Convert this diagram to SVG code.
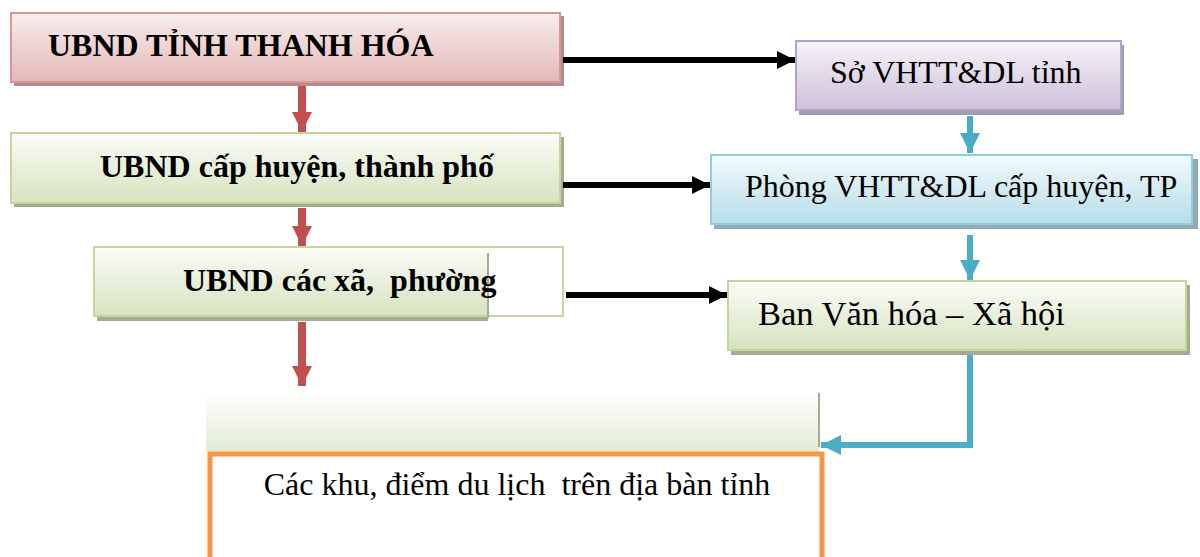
<svg xmlns="http://www.w3.org/2000/svg" width="1200" height="557" viewBox="0 0 1200 557">
<defs>
<linearGradient id="gPink" x1="0" y1="0" x2="0" y2="1"><stop offset="0" stop-color="#f8eded"/><stop offset="1" stop-color="#e5b8b7"/></linearGradient>
<linearGradient id="gGreen" x1="0" y1="0" x2="0" y2="1"><stop offset="0" stop-color="#fbfcf8"/><stop offset="1" stop-color="#d7e3bf"/></linearGradient>
<linearGradient id="gPurple" x1="0" y1="0" x2="0" y2="1"><stop offset="0" stop-color="#f6f3f8"/><stop offset="1" stop-color="#ccc0da"/></linearGradient>
<linearGradient id="gBlue" x1="0" y1="0" x2="0" y2="1"><stop offset="0" stop-color="#f3fafc"/><stop offset="1" stop-color="#b6dde8"/></linearGradient>
<linearGradient id="gFade" x1="0" y1="0" x2="0" y2="1"><stop offset="0" stop-color="#ffffff"/><stop offset="1" stop-color="#e2ebd3"/></linearGradient>
<marker id="mRed" viewBox="0 0 10 10" refX="10" refY="5" markerUnits="userSpaceOnUse" markerWidth="23" markerHeight="20" orient="auto"><path d="M0,0 L10,5 L0,10 z" fill="#c0504d"/></marker>
<marker id="mBlue" viewBox="0 0 10 10" refX="10" refY="5" markerUnits="userSpaceOnUse" markerWidth="21" markerHeight="20" orient="auto"><path d="M0,0 L10,5 L0,10 z" fill="#4bacc6"/></marker>
<marker id="mBlack" viewBox="0 0 10 10" refX="10" refY="5" markerUnits="userSpaceOnUse" markerWidth="20" markerHeight="18" orient="auto"><path d="M0,0 L10,5 L0,10 z" fill="#000"/></marker>
</defs>
<style>
.t{font-family:"Liberation Serif","Times New Roman",serif;font-size:32px;fill:#000;white-space:pre}
.b{font-weight:bold}
.red{stroke:#c0504d;stroke-width:8;fill:none}
.blue{stroke:#4bacc6;stroke-width:6;fill:none}
.blk{stroke:#000;stroke-width:6;fill:none}
</style>
<rect width="1200" height="557" fill="#fff"/>

<g id="tinh">
<rect x="14" y="16" width="550" height="70" fill="#b18d8d"/>
<rect x="11" y="13" width="549" height="69" fill="url(#gPink)" stroke="#d99694" stroke-width="2"/>
<text class="t b" x="48" y="56">UBND TỈNH THANH HÓA</text>
</g>

<g id="huyen">
<rect x="14" y="137" width="550" height="70" fill="#a5ad91"/>
<rect x="11" y="133" width="549" height="70" fill="url(#gGreen)" stroke="#c3d69b" stroke-width="2"/>
<text class="t b" x="100" y="177">UBND cấp huyện, thành phố</text>
</g>

<g id="xa">
<rect x="97" y="251" width="391" height="70" fill="#a5ad91"/>
<rect x="94" y="247" width="469" height="69" fill="#fff" stroke="#c3d69b" stroke-width="2"/>
<rect x="95" y="248" width="393" height="67" fill="url(#gGreen)"/>
<line x1="488" y1="253" x2="488" y2="318" stroke="#a5ad91" stroke-width="2"/>
<text class="t b" x="183" y="291">UBND các xã,  phường</text>
</g>

<g id="khu">
<rect x="206" y="392" width="613" height="60" fill="url(#gFade)"/>
<line x1="819" y1="393" x2="819" y2="447" stroke="#a5ad91" stroke-width="2"/>
<rect x="210" y="454" width="612" height="110" fill="#fff" stroke="#f79646" stroke-width="5"/>
<text class="t" x="517" y="495" text-anchor="middle">Các khu, điểm du lịch  trên địa bàn tỉnh</text>
</g>

<g id="so">
<rect x="799" y="45" width="325" height="70" fill="#a29ab0"/>
<rect x="796" y="41" width="325" height="69" fill="url(#gPurple)" stroke="#b3a2c7" stroke-width="2"/>
<text class="t" x="830" y="83">Sở VHTT&amp;DL tỉnh</text>
</g>

<g id="phong">
<rect x="714" y="159" width="484" height="70" fill="#8eaab3"/>
<rect x="711" y="155" width="481" height="69" fill="url(#gBlue)" stroke="#92cddc" stroke-width="2"/>
<text class="t" x="745" y="197">Phòng VHTT&amp;DL cấp huyện, TP</text>
</g>

<g id="ban">
<rect x="731" y="285" width="459" height="70" fill="#a5ad91"/>
<rect x="728" y="281" width="458" height="69" fill="url(#gGreen)" stroke="#c3d69b" stroke-width="2"/>
<text class="t" x="758" y="325" style="font-size:34.5px">Ban Văn hóa – Xã hội</text>
</g>

<g id="connectors">
<line class="red" x1="302" y1="86" x2="302" y2="132" marker-end="url(#mRed)"/>
<line class="red" x1="302" y1="208" x2="302" y2="246" marker-end="url(#mRed)"/>
<line class="red" x1="302" y1="322" x2="302" y2="386" marker-end="url(#mRed)"/>
<line class="blue" x1="970" y1="116" x2="970" y2="153" marker-end="url(#mBlue)"/>
<line class="blue" x1="970" y1="235" x2="970" y2="280" marker-end="url(#mBlue)"/>
<polyline class="blue" points="970,355 970,445 821,445" marker-end="url(#mBlue)"/>
<line class="blk" x1="563" y1="60" x2="795" y2="60" marker-end="url(#mBlack)"/>
<line class="blk" x1="563" y1="185" x2="710" y2="185" marker-end="url(#mBlack)"/>
<line class="blk" x1="566" y1="295" x2="727" y2="295" marker-end="url(#mBlack)"/>
</g>
</svg>
